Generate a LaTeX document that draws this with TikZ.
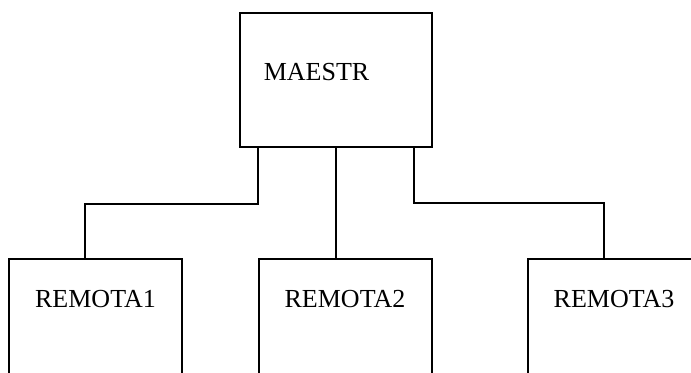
\documentclass[tikz,border=0pt]{standalone}
\usepackage{fontspec}
\setmainfont{Liberation Serif}
\begin{document}
\begin{tikzpicture}[x=1bp,y=-1bp,
  box/.style={draw,line width=1.8bp,rectangle,inner sep=0pt},
  lbl/.style={inner sep=0pt,anchor=base,font=\fontsize{26bp}{30bp}\selectfont},
  conn/.style={line width=1.8bp}]
\useasboundingbox (0,0) rectangle (691,372);
\clip (0,0) rectangle (691,372);
% boxes
\node[box,minimum width=192bp,minimum height=134bp] (m) at (336,80) {};
\node[box,minimum width=173bp,minimum height=160bp] (r1) at (95.5,339) {};
\node[box,minimum width=173bp,minimum height=160bp] (r2) at (345.5,339) {};
\node[box,minimum width=173bp,minimum height=160bp] (r3) at (614.5,339) {};
% labels
\node[lbl] (tm) at (316.5,80) {MAESTR};
\node[lbl] (t1) at (95.5,307) {REMOTA1};
\node[lbl] (t2) at (345,307) {REMOTA2};
\node[lbl] (t3) at (614,307) {REMOTA3};
% connectors
\draw[conn] ([xshift=19bp]m.south west) -- ++(0,56) -| ([xshift=77bp]r1.north west);
\draw[conn] (m.south) -- (m.south |- r2.north);
\draw[conn] ([xshift=-19bp]m.south east) -- ++(0,55) -| ([xshift=77bp]r3.north west);
\end{tikzpicture}
\end{document}
